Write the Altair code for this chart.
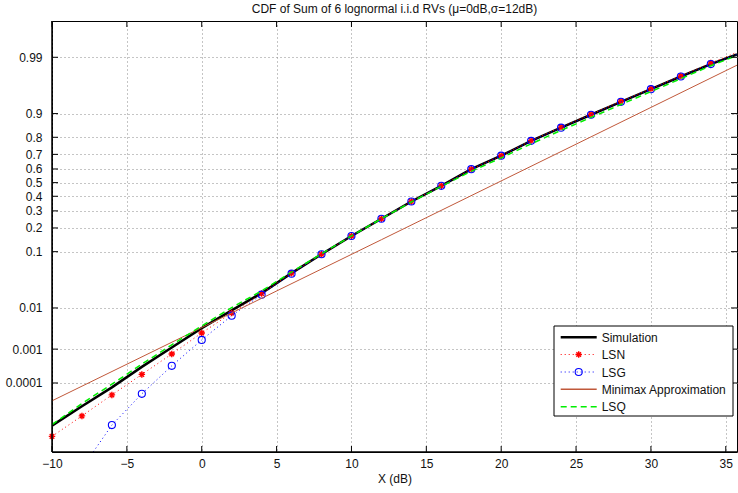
import altair as alt
import pandas as pd
from statistics import NormalDist

# ---------------- data ----------------
# y values are positions on the normal-probability axis, i.e. the standard
# normal quantile of the CDF value (0 <-> 0.5, -2.326 <-> 0.01, ...)
x_db = [-10, -8, -6, -4, -2, 0, 2, 4, 6, 8, 10, 12, 14, 16, 18, 20, 22, 24,
        26, 28, 30, 32, 34, 35.75]
sim_q = [-4.51, -4.15, -3.80, -3.42, -3.06, -2.70, -2.37, -2.05, -1.68, -1.33,
         -0.99, -0.67, -0.35, -0.06, 0.25, 0.50, 0.775, 1.02, 1.26, 1.50,
         1.735, 1.97, 2.20, 2.38]
lsn_q = [-4.71, -4.33, -3.94, -3.56, -3.18, -2.79, -2.42, -2.06, -1.68, -1.33,
         -0.99, -0.67, -0.35, -0.06, 0.25, 0.50, 0.78, 1.03, 1.27, 1.51,
         1.745, 1.98, 2.22, 2.42]
lsq_q = [-4.49, -4.10, -3.74, -3.37, -3.01, -2.66, -2.32, -2.01, -1.66, -1.32,
         -0.99, -0.67, -0.36, -0.07, 0.21, 0.46, 0.72, 0.97, 1.21, 1.45,
         1.69, 1.93, 2.17, 2.36]
lsg_x = [-8, -6, -4, -2, 0, 2, 4, 6, 8, 10, 12, 14, 16, 18, 20, 22, 24, 26,
         28, 30, 32, 34, 35.75]
lsg_q = [-5.30, -4.50, -3.92, -3.40, -2.92, -2.47, -2.08, -1.69, -1.33, -0.99,
         -0.67, -0.35, -0.06, 0.25, 0.50, 0.775, 1.02, 1.26, 1.50, 1.735,
         1.97, 2.20, 2.38]
mm_x = [-10, 12, 35.75]
mm_q = [-4.05, -1.06, 2.18]

x_ticks = [-10, -5, 0, 5, 10, 15, 20, 25, 30, 35]
y_tick_labels = ["0.0001", "0.001", "0.01", "0.1", "0.2", "0.3", "0.4", "0.5",
                 "0.6", "0.7", "0.8", "0.9", "0.99"]

legend_labels = ["Simulation", "LSN", "LSG", "Minimax Approximation", "LSQ"]

TITLE = "CDF of Sum of 6 lognormal i.i.d RVs (\u03bc=0dB,\u03c3=12dB)"

# ---------------- layout ----------------
W, H = 685, 431
FONT = "Liberation Sans"
nd = NormalDist()
y_tick_pos = [nd.inv_cdf(float(s)) for s in y_tick_labels]

label_expr = "''"
for pos, lab in zip(reversed(y_tick_pos), reversed(y_tick_labels)):
    label_expr = f"abs(datum.value - ({pos:.6f})) < 0.001 ? '{lab}' : ({label_expr})"

x_scale = alt.Scale(domain=[-10, 35.75], nice=False, zero=False)
y_scale = alt.Scale(domain=[-5, 3], nice=False, zero=False)

GRID = "#8a8a8a"
x_axis = alt.Axis(values=x_ticks, title="X (dB)", grid=True, gridDash=[1, 3],
                  gridColor=GRID, gridWidth=1, tickSize=0, domain=False,
                  labelFontSize=12, labelFont=FONT, labelColor="#111",
                  labelPadding=6, labelFlush=False, titleFont=FONT,
                  titleFontSize=12, titleFontWeight="normal", titleColor="#111",
                  titleY=30, titleBaseline="alphabetic")
y_axis = alt.Axis(values=y_tick_pos, labelExpr=label_expr, title=None,
                  grid=True, gridDash=[1, 3], gridColor=GRID, gridWidth=1,
                  tickSize=0, domain=False, labelFontSize=12, labelFont=FONT,
                  labelColor="#111", labelPadding=10)

X = alt.X("x:Q", scale=x_scale, axis=x_axis)
Y = alt.Y("q:Q", scale=y_scale, axis=y_axis)

sim_df = pd.DataFrame({"x": x_db, "q": sim_q})
lsn_df = pd.DataFrame({"x": x_db, "q": lsn_q})
lsq_df = pd.DataFrame({"x": x_db, "q": lsq_q})
lsg_df = pd.DataFrame({"x": lsg_x, "q": lsg_q})
mm_df = pd.DataFrame({"x": mm_x, "q": mm_q})

STAR = "M-1,0L1,0M0,-1L0,1M-0.7,-0.7L0.7,0.7M-0.7,0.7L0.7,-0.7"
RED, BLUE, BROWN, GREEN = "#ff0000", "#0000ff", "#c0583a", "#00ee00"

layers = []
# simulation
layers.append(alt.Chart(sim_df).mark_line(color="black", strokeWidth=2.5, clip=True).encode(x=X, y=Y))
# LSN
layers.append(alt.Chart(lsn_df).mark_line(color=RED, strokeWidth=1, strokeDash=[1, 3], clip=True).encode(x=X, y=Y))
layers.append(alt.Chart(lsn_df).transform_filter("datum.x <= 34").mark_point(
    shape=STAR, filled=False, color=RED, size=42, strokeWidth=1.4, opacity=1).encode(x=X, y=Y))
# LSG
layers.append(alt.Chart(lsg_df).mark_line(color=BLUE, strokeWidth=1, strokeDash=[1, 3], clip=True).encode(x=X, y=Y))
layers.append(alt.Chart(lsg_df).transform_filter("datum.q > -5 && datum.x <= 34").mark_point(
    shape="circle", filled=False, color=BLUE, size=50, strokeWidth=1.1, opacity=1).encode(x=X, y=Y))
# Minimax
layers.append(alt.Chart(mm_df).mark_line(color=BROWN, strokeWidth=1, clip=True).encode(x=X, y=Y))
# LSQ
layers.append(alt.Chart(lsq_df).mark_line(color=GREEN, strokeWidth=1.5, strokeDash=[6, 4], clip=True).encode(x=X, y=Y))

# inward ticks on all four sides (MATLAB style)
xt_df = pd.DataFrame({"x": x_ticks})
yt_df = pd.DataFrame({"q": y_tick_pos})
TL = 6
for y0, y1 in [(H - TL, H), (0, TL)]:
    layers.append(alt.Chart(xt_df).mark_rule(color="black", strokeWidth=1).encode(
        x=X, y=alt.value(y0), y2=alt.value(y1)))
for x0, x1 in [(0, TL), (W - TL, W)]:
    layers.append(alt.Chart(yt_df).mark_rule(color="black", strokeWidth=1).encode(
        y=Y, x=alt.value(x0), x2=alt.value(x1)))

# heavier left / bottom axis lines
one = pd.DataFrame({"k": [0]})
layers.append(alt.Chart(one).mark_rule(color="black", strokeWidth=1.5).encode(
    x=alt.value(0), x2=alt.value(W), y=alt.value(H)))
layers.append(alt.Chart(one).mark_rule(color="black", strokeWidth=1.5).encode(
    x=alt.value(0), y=alt.value(0), y2=alt.value(H)))

# title (drawn as text just above the plot box)
layers.append(alt.Chart(one).mark_text(align="center", baseline="alphabetic", font=FONT,
                                       fontSize=12, color="#111").encode(
    x=alt.value(W / 2), y=alt.value(-8.5), text=alt.value(TITLE)))

# legend box
LX0, LX1, LY0, LY1 = 502, 681, 305, 395
layers.append(alt.Chart(one).mark_rect(fill="white", stroke="black", strokeWidth=1).encode(
    x=alt.value(LX0), x2=alt.value(LX1), y=alt.value(LY0), y2=alt.value(LY1)))
styles = [
    dict(color="black", strokeWidth=2.5),
    dict(color=RED, strokeWidth=1, strokeDash=[1, 3]),
    dict(color=BLUE, strokeWidth=1, strokeDash=[1, 3]),
    dict(color=BROWN, strokeWidth=1.5),
    dict(color=GREEN, strokeWidth=1.5, strokeDash=[6, 4]),
]
ys = [316.3, 333.5, 351, 368.3, 385.7]
for lab, st, ey in zip(legend_labels, styles, ys):
    layers.append(alt.Chart(one).mark_rule(**st).encode(
        x=alt.value(508.7), x2=alt.value(544.7), y=alt.value(ey)))
    layers.append(alt.Chart(one).mark_text(align="left", baseline="middle", font=FONT,
                                           fontSize=12, color="#111").encode(
        x=alt.value(549.7), y=alt.value(ey + 0.5), text=alt.value(lab)))
layers.append(alt.Chart(one).mark_point(shape=STAR, filled=False, color=RED, size=42,
                                        strokeWidth=1.4, opacity=1).encode(
    x=alt.value(526.7), y=alt.value(ys[1])))
layers.append(alt.Chart(one).mark_point(shape="circle", filled=False, color=BLUE, size=50,
                                        strokeWidth=1.1, opacity=1).encode(
    x=alt.value(526.7), y=alt.value(ys[2])))

chart = alt.layer(*layers).properties(
    width=W, height=H,
    autosize=alt.AutoSizeParams(type="none"),
    padding={"left": 52, "top": 21, "right": 1, "bottom": 41},
    background="white",
).configure_view(stroke="black", strokeWidth=1)

chart.save("out.html", embed_options={"renderer": "svg", "actions": False})
